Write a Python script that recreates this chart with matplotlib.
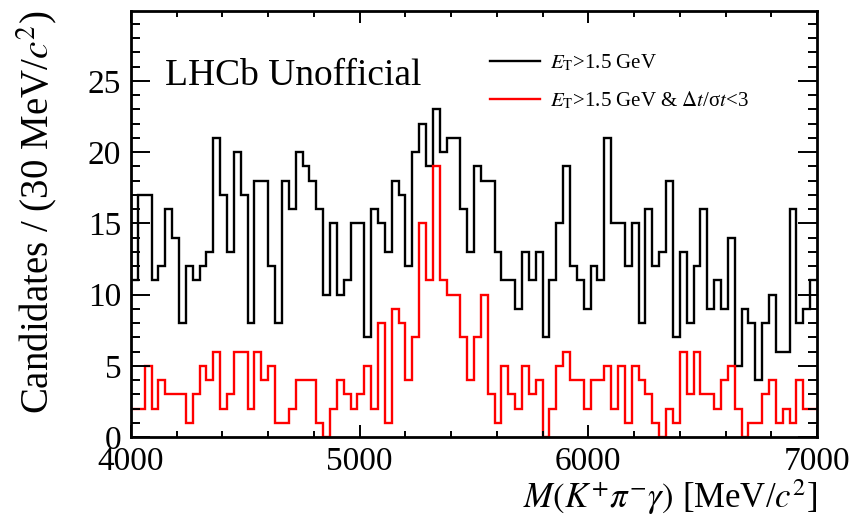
import numpy as np
import matplotlib
matplotlib.use("Agg")
import matplotlib.pyplot as plt
from matplotlib.ticker import MultipleLocator

plt.rcParams['font.family'] = ['Liberation Serif', 'DejaVu Serif']
plt.rcParams['mathtext.fontset'] = 'stix'

# 100 bins of 30 MeV between 4000 and 7000
m_lo, m_hi, n_bins = 4000, 7000, 100

# E_T > 1.5 GeV
n_et = [11, 17, 17, 11, 12, 16, 14, 8, 12, 11,
        12, 13, 21, 17, 13, 20, 17, 8, 18, 18,
        12, 8, 18, 16, 20, 19, 18, 16, 10, 15,
        10, 11, 15, 15, 7, 16, 15, 13, 18, 17,
        12, 20, 22, 19, 23, 20, 21, 21, 16, 13,
        19, 18, 18, 13, 11, 11, 9, 13, 11, 13,
        7, 11, 15, 19, 12, 11, 9, 12, 11, 21,
        15, 15, 12, 15, 8, 16, 12, 13, 18, 7,
        13, 8, 12, 16, 9, 11, 9, 14, 5, 9,
        8, 4, 8, 10, 6, 6, 16, 8, 9, 11]

# E_T > 1.5 GeV & dt/sigma_t < 3
n_et_dt = [2, 2, 5, 2, 4, 3, 3, 3, 1, 3,
           5, 4, 6, 2, 3, 6, 6, 2, 6, 4,
           5, 1, 1, 2, 4, 4, 4, 1, 0, 2,
           4, 3, 2, 3, 5, 2, 8, 1, 9, 8,
           4, 7, 15, 11, 19, 11, 10, 10, 7, 4,
           7, 10, 3, 1, 5, 3, 2, 5, 3, 4,
           0, 2, 5, 6, 4, 4, 2, 4, 4, 5,
           2, 5, 1, 5, 4, 3, 1, 0, 2, 1,
           6, 3, 6, 3, 3, 2, 4, 5, 2, 0,
           1, 1, 3, 4, 1, 2, 1, 4, 2, 2]

edges = np.linspace(m_lo, m_hi, n_bins + 1)

fig = plt.figure(figsize=(8.58, 5.14), dpi=100)
ax = fig.add_axes([0.1527, 0.1498, 0.7995, 0.8288])

ax.stairs(n_et, edges, baseline=None, color='black', lw=1.7,
          label=r'$E_{\rm T}$>1.5 GeV')
ax.stairs(n_et_dt, edges, baseline=None, color='red', lw=1.7,
          label=r'$E_{\rm T}$>1.5 GeV & $\Delta$$t$/σ$t$<3')

ax.set_xlim(m_lo, m_hi)
ax.set_ylim(0, 29.9)

ax.xaxis.set_major_locator(MultipleLocator(1000))
ax.xaxis.set_minor_locator(MultipleLocator(200))
ax.yaxis.set_major_locator(MultipleLocator(5))
ax.yaxis.set_minor_locator(MultipleLocator(1))

ax.tick_params(which='both', direction='in', top=True, right=True, width=1.4)
ax.tick_params(axis='y', which='major', length=13.5, labelsize=24, pad=7)
ax.tick_params(axis='y', which='minor', length=6.5)
ax.tick_params(axis='x', which='major', length=8.5, labelsize=24, pad=7)
ax.tick_params(axis='x', which='minor', length=4.5)
for sp in ax.spines.values():
    sp.set_linewidth(2)

ax.set_xlabel(r'$M(K^{+}\pi^{-}\gamma)$ [MeV/$c^{2}$]', fontsize=25,
              loc='right')
ax.xaxis.set_label_coords(1.0, -0.093)
ax.set_ylabel(r'Candidates / (30 MeV/$c^{2}$)', fontsize=28, loc='top')
ax.yaxis.set_label_coords(-0.105, 1.0)

ax.text(0.0496, 0.826, 'LHCb Unofficial', transform=ax.transAxes,
        fontsize=27, va='baseline')

ax.legend(loc='upper left', bbox_to_anchor=(0.523, 0.903), frameon=False,
          borderaxespad=0, borderpad=0, fontsize=15, handlelength=2.4,
          handletextpad=0.5, labelspacing=0.78)

fig.savefig('out.png', dpi=100)
